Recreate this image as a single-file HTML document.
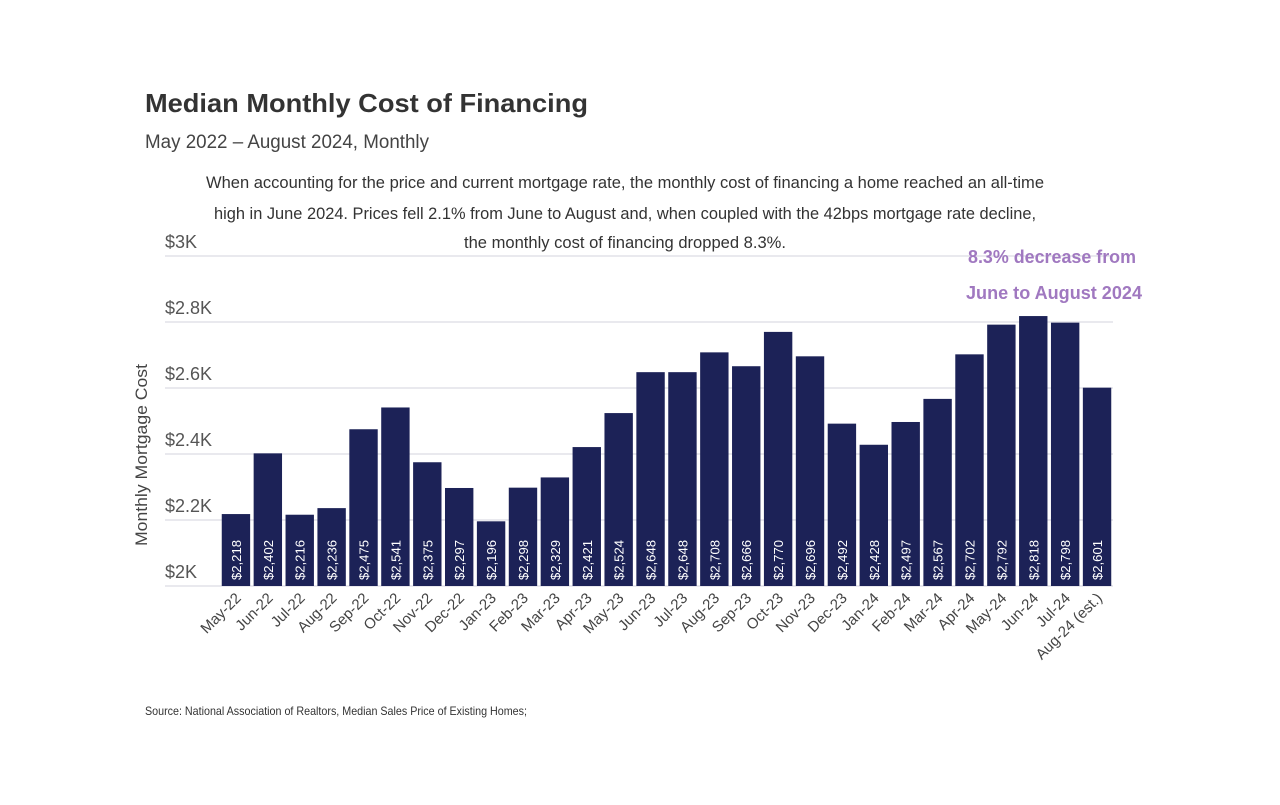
<!DOCTYPE html>
<html><head><meta charset="utf-8"><style>
body{margin:0;background:#fff;font-family:"Liberation Sans",sans-serif;}
svg text{font-family:"Liberation Sans",sans-serif;}
</style></head><body>
<svg id="chart" width="1280" height="800" xmlns="http://www.w3.org/2000/svg">
<text x="145" y="112" font-size="26" font-weight="bold" fill="#333" textLength="443" lengthAdjust="spacingAndGlyphs">Median Monthly Cost of Financing</text>
<text x="145" y="148" font-size="19" fill="#444" textLength="284" lengthAdjust="spacingAndGlyphs">May 2022 – August 2024, Monthly</text>
<text x="625" y="188" font-size="16.5" fill="#333" text-anchor="middle" textLength="838" lengthAdjust="spacingAndGlyphs">When accounting for the price and current mortgage rate, the monthly cost of financing a home reached an all-time</text>
<text x="625" y="219" font-size="16.5" fill="#333" text-anchor="middle" textLength="822" lengthAdjust="spacingAndGlyphs">high in June 2024. Prices fell 2.1% from June to August and, when coupled with the 42bps mortgage rate decline,</text>
<text x="625" y="248" font-size="16.5" fill="#333" text-anchor="middle" textLength="322" lengthAdjust="spacingAndGlyphs">the monthly cost of financing dropped 8.3%.</text>
<text transform="translate(147,455) rotate(-90)" font-size="17" fill="#444" text-anchor="middle" textLength="182" lengthAdjust="spacingAndGlyphs">Monthly Mortgage Cost</text>
<g id="grid"></g><g id="bars"></g><g id="xlabels"></g>
<text x="1052" y="263" font-size="18" font-weight="bold" fill="#a078c0" text-anchor="middle" textLength="168" lengthAdjust="spacingAndGlyphs">8.3% decrease from</text>
<text x="1054" y="299" font-size="18" font-weight="bold" fill="#a078c0" text-anchor="middle" textLength="176" lengthAdjust="spacingAndGlyphs">June to August 2024</text>
<text x="145" y="715" font-size="12" fill="#333" textLength="382" lengthAdjust="spacingAndGlyphs">Source: National Association of Realtors, Median Sales Price of Existing Homes;</text>
</svg>
<script>
const categories=["May-22","Jun-22","Jul-22","Aug-22","Sep-22","Oct-22","Nov-22","Dec-22","Jan-23","Feb-23","Mar-23","Apr-23","May-23","Jun-23","Jul-23","Aug-23","Sep-23","Oct-23","Nov-23","Dec-23","Jan-24","Feb-24","Mar-24","Apr-24","May-24","Jun-24","Jul-24","Aug-24 (est.)"];
const values=[2218,2402,2216,2236,2475,2541,2375,2297,2196,2298,2329,2421,2524,2648,2648,2708,2666,2770,2696,2492,2428,2497,2567,2702,2792,2818,2798,2601];
const yTicks=[2000,2200,2400,2600,2800,3000];
const yTickLabels=["$2K","$2.2K","$2.4K","$2.6K","$2.8K","$3K"];
const NS="http://www.w3.org/2000/svg";
const x0=220,x1=1113,yBase=586,yTop=256,vMin=2000,vMax=3000;
const step=(x1-x0)/categories.length;
function y(v){return yBase-(v-vMin)/(vMax-vMin)*(yBase-yTop);}
function xc(i){return x0+step*(i+0.5);}
function mk(tag,attrs,parent){const e=document.createElementNS(NS,tag);for(const k in attrs)e.setAttribute(k,attrs[k]);parent.appendChild(e);return e;}
const grid=document.getElementById('grid'),bars=document.getElementById('bars'),xl=document.getElementById('xlabels');
yTicks.forEach((t,i)=>{
  const l=mk('line',{x1:165,x2:x1,y1:y(t),y2:y(t),stroke:'#dcdce4','stroke-width':1.2},grid);
  
  
  const tx=mk('text',{x:165,y:y(t)-8,'font-size':18,fill:'#555'},grid);
  tx.textContent=yTickLabels[i];
  
  
});
values.forEach((v,i)=>{
  const w=step-3.5;
  const r=mk('rect',{x:xc(i)-w/2,y:y(v),width:w,height:yBase-y(v),fill:'#1c2257'},bars);
  
  
  const t=mk('text',{transform:`translate(${xc(i)+5},580) rotate(-90)`,'font-size':13,fill:'#fff',textLength:40,lengthAdjust:'spacingAndGlyphs'},bars);
  t.textContent='$'+v.toLocaleString('en-US');
  
  
  const c=mk('text',{transform:`translate(${xc(i)+6},599) rotate(-45)`,'font-size':15,fill:'#444','text-anchor':'end'},xl);
  c.textContent=categories[i];
  
  
});
</script>
</body></html>
